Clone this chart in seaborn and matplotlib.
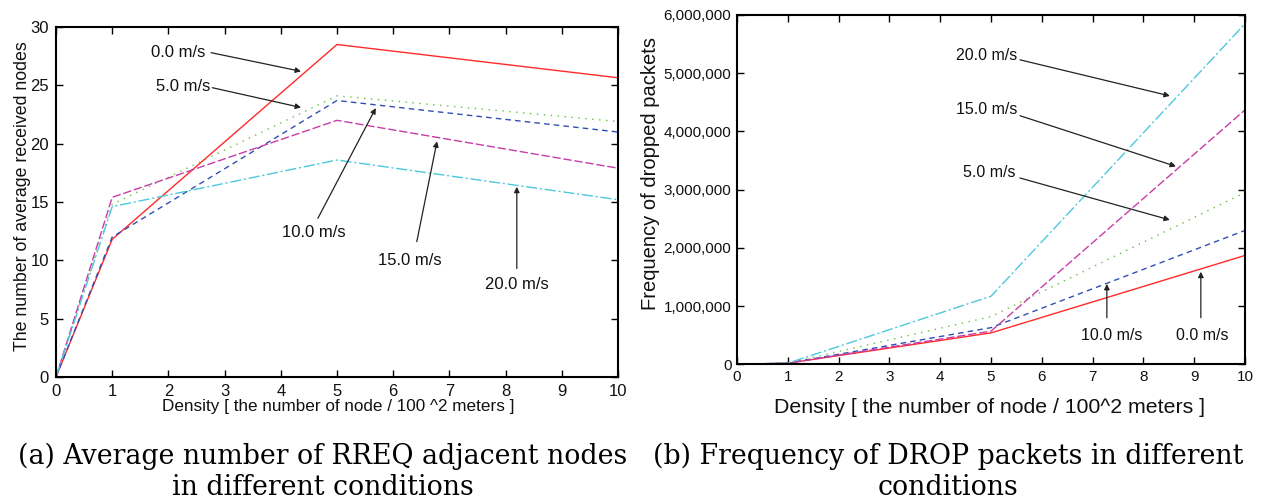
import matplotlib
matplotlib.use("Agg")
import matplotlib.pyplot as plt
import seaborn as sns
import pandas as pd

# ---------------- data ----------------
density = [0, 1, 5, 10]
speeds = ["0.0 m/s", "5.0 m/s", "10.0 m/s", "15.0 m/s", "20.0 m/s"]

rreq_00 = [0, 11.8, 28.5, 25.65]
rreq_05 = [0, 14.8, 24.1, 21.9]
rreq_10 = [0, 12.0, 23.7, 21.0]
rreq_15 = [0, 15.4, 22.0, 17.9]
rreq_20 = [0, 14.6, 18.6, 15.2]

drop_00 = [0, 20000, 540000, 1870000]
drop_05 = [0, 20000, 820000, 2950000]
drop_10 = [0, 20000, 630000, 2300000]
drop_15 = [0, 20000, 570000, 4370000]
drop_20 = [0, 20000, 1170000, 5850000]

left_yticks = [0, 5, 10, 15, 20, 25, 30]
right_yticks = [0, 1000000, 2000000, 3000000, 4000000, 5000000, 6000000]
right_yticklabels = ["0", "1,000,000", "2,000,000", "3,000,000", "4,000,000", "5,000,000", "6,000,000"]
xticks = list(range(11))

caption_a = "(a) Average number of RREQ adjacent nodes\nin different conditions"
caption_b = "(b) Frequency of DROP packets in different\nconditions"

# ---------------- style ----------------
sns.set_theme(style="ticks")
plt.rcParams["font.family"] = ["Liberation Sans", "DejaVu Sans"]
plt.rcParams["text.color"] = "#111111"
plt.rcParams["axes.labelcolor"] = "#111111"
plt.rcParams["xtick.labelcolor"] = "#111111"
plt.rcParams["ytick.labelcolor"] = "#111111"

palette = {"0.0 m/s": "#ff2a2a", "5.0 m/s": "#66c040", "10.0 m/s": "#3050b0",
           "15.0 m/s": "#c83ca8", "20.0 m/s": "#4cc8dc"}
dashes = {"0.0 m/s": "", "5.0 m/s": (1, 4), "10.0 m/s": (4, 3),
          "15.0 m/s": (6, 2), "20.0 m/s": (8, 2, 1.5, 2)}

def long_frame(series):
    rows = []
    for sp, vals in zip(speeds, series):
        for x, v in zip(density, vals):
            rows.append({"density": x, "value": v, "speed": sp})
    return pd.DataFrame(rows)

df_a = long_frame([rreq_00, rreq_05, rreq_10, rreq_15, rreq_20])
df_b = long_frame([drop_00, drop_05, drop_10, drop_15, drop_20])

fig = plt.figure(figsize=(12.64, 5.03), dpi=100)
ax1 = fig.add_axes([0.0443, 0.2505, 0.4446, 0.6958])
ax2 = fig.add_axes([0.5831, 0.2757, 0.4019, 0.6945])

for ax, df in ((ax1, df_a), (ax2, df_b)):
    sns.lineplot(data=df, x="density", y="value", hue="speed", style="speed",
                 palette=palette, dashes=dashes, hue_order=speeds, style_order=speeds,
                 linewidth=1.0, legend=False, ax=ax)
    ax.set_xlim(0, 10)
    ax.set_xticks(xticks)
    for sp in ax.spines.values():
        sp.set_visible(True)
        sp.set_linewidth(1.5)
        sp.set_color("black")
    ax.tick_params(direction="in", top=True, right=True, length=5, width=1.0,
                   color="black")

# left panel
ax1.set_ylim(0, 30)
ax1.set_yticks(left_yticks)
ax1.tick_params(labelsize=12, pad=5)
ax1.set_xlabel("Density [ the number of node / 100 ^2 meters ]", fontsize=12.3)
ax1.set_ylabel("The number of average received nodes", fontsize=12.8)
ax1.xaxis.set_label_coords(0.502, -0.064)
ax1.yaxis.set_label_coords(-0.045, 0.516)

arrow_kw = dict(arrowstyle="-|>", color="#222222", lw=0.9, mutation_scale=8,
                shrinkA=0, shrinkB=0)
left_notes = [
    ("0.0 m/s", (2.17, 27.85), (2.76, 27.8), (4.36, 26.2)),
    ("5.0 m/s", (2.26, 24.9), (2.78, 24.8), (4.36, 23.1)),
    ("10.0 m/s", (4.59, 12.4), (4.66, 13.6), (5.69, 23.05)),
    ("15.0 m/s", (6.30, 10.0), (6.42, 11.6), (6.78, 20.2)),
    ("20.0 m/s", (8.20, 7.9), (8.20, 9.3), (8.20, 16.3)),
]
for label, tpos, tail, head in left_notes:
    ax1.text(tpos[0], tpos[1], label, fontsize=12, ha="center", va="center")
    ax1.annotate("", xy=head, xytext=tail, arrowprops=arrow_kw)

# right panel
ax2.set_ylim(0, 6000000)
ax2.set_yticks(right_yticks)
ax2.set_yticklabels(right_yticklabels)
ax2.tick_params(labelsize=11, pad=4)
ax2.set_xlabel("Density [ the number of node / 100^2 meters ]", fontsize=15.3)
ax2.set_ylabel("Frequency of dropped packets", fontsize=14.5)
ax2.xaxis.set_label_coords(0.496, -0.095)
ax2.yaxis.set_label_coords(-0.151, 0.545)

right_notes = [
    ("20.0 m/s", (4.92, 5310000), (5.57, 5230000), (8.52, 4610000)),
    ("15.0 m/s", (4.92, 4370000), (5.57, 4270000), (8.64, 3400000)),
    ("5.0 m/s", (4.96, 3290000), (5.57, 3200000), (8.52, 2480000)),
    ("10.0 m/s", (7.38, 500000), (7.28, 800000), (7.28, 1380000)),
    ("0.0 m/s", (9.15, 500000), (9.13, 800000), (9.13, 1590000)),
]
for label, tpos, tail, head in right_notes:
    ax2.text(tpos[0], tpos[1], label, fontsize=11.5, ha="center", va="center")
    ax2.annotate("", xy=head, xytext=tail, arrowprops=arrow_kw)

# captions
fig.text(323 / 1264, 1 - 472 / 503, caption_a, ha="center", va="center",
         fontsize=19.3, family=["DejaVu Serif"], linespacing=1.18, color="black")
fig.text(948 / 1264, 1 - 472 / 503, caption_b, ha="center", va="center",
         fontsize=19.3, family=["DejaVu Serif"], linespacing=1.18, color="black")

fig.savefig("out.png", dpi=100)
